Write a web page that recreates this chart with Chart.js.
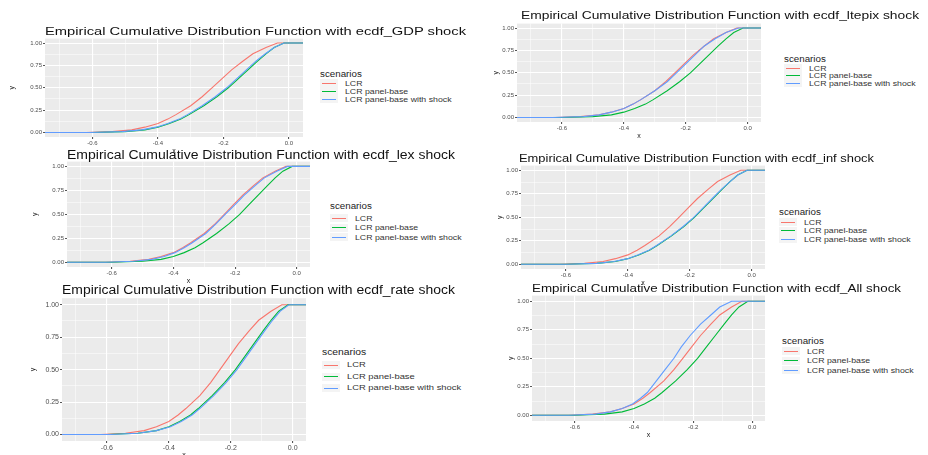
<!DOCTYPE html>
<html>
<head>
<meta charset="utf-8">
<script src="https://cdn.jsdelivr.net/npm/chart.js@4.4.1/dist/chart.umd.min.js"></script>
<style>
  body { margin:0; background:#fff; width:928px; height:455px; overflow:hidden; position:relative; font-family:"Liberation Sans", Arial, sans-serif; }
  canvas { position:absolute; }
  .title { position:absolute; white-space:nowrap; color:#111; transform-origin:0 50%; line-height:1; }
  .legend { position:absolute; color:#222; }
  .legend .lt { position:absolute; left:0; top:0; white-space:nowrap; line-height:1; transform-origin:0 50%; }
  .legend .item { position:absolute; white-space:nowrap; line-height:1; transform-origin:0 50%; color:#333; }
  .legend .key { position:absolute; left:0; width:18px; height:8px; background:#f4f4f4; }
  .legend .key i { position:absolute; left:2px; right:2px; top:3.5px; height:1px; }
</style>
</head>
<body>
<script>
const probs        = [0, 0.01, 0.03, 0.06, 0.1, 0.15, 0.2, 0.3, 0.4, 0.5, 0.6, 0.7, 0.8, 0.88, 0.95, 1];
const lcrX         = [-0.62, -0.54, -0.48, -0.44, -0.40, -0.37, -0.345, -0.30, -0.265, -0.235, -0.205, -0.175, -0.14, -0.11, -0.07, -0.035];
const baseX        = [-0.60, -0.50, -0.44, -0.40, -0.365, -0.33, -0.305, -0.26, -0.22, -0.185, -0.155, -0.125, -0.095, -0.07, -0.045, -0.015];
const gdpShockX    = [-0.61, -0.51, -0.45, -0.405, -0.37, -0.335, -0.31, -0.265, -0.225, -0.19, -0.16, -0.13, -0.10, -0.072, -0.045, -0.015];
const ltepixShockX = [-0.63, -0.53, -0.48, -0.44, -0.40, -0.37, -0.345, -0.30, -0.26, -0.23, -0.20, -0.17, -0.14, -0.105, -0.07, -0.03];
const lexShockX    = [-0.62, -0.53, -0.47, -0.43, -0.395, -0.365, -0.34, -0.295, -0.262, -0.232, -0.20, -0.17, -0.135, -0.105, -0.065, -0.03];
const infShockX    = [-0.60, -0.50, -0.445, -0.40, -0.368, -0.332, -0.307, -0.262, -0.222, -0.187, -0.157, -0.127, -0.097, -0.07, -0.045, -0.015];
const rateShockX   = [-0.59, -0.50, -0.44, -0.395, -0.36, -0.325, -0.30, -0.255, -0.215, -0.18, -0.15, -0.12, -0.09, -0.065, -0.04, -0.012];
const allShockX    = [-0.62, -0.53, -0.48, -0.44, -0.405, -0.378, -0.355, -0.325, -0.295, -0.265, -0.24, -0.21, -0.175, -0.14, -0.11, -0.07];

const scenarios = ['LCR', 'LCR panel-base', 'LCR panel-base with shock'];
const shockNames = ['ecdf_GDP', 'ecdf_ltepix', 'ecdf_lex', 'ecdf_inf', 'ecdf_rate', 'ecdf_All'];
const shockSeries = [gdpShockX, ltepixShockX, lexShockX, infShockX, rateShockX, allShockX];

const xMajor = [-0.6, -0.4, -0.2, 0];
const xMajorLabels = ['-0.6', '-0.4', '-0.2', '0.0'];
const xMinor = [-0.7, -0.5, -0.3, -0.1];
const yMajor = [0, 0.25, 0.5, 0.75, 1];
const yMajorLabels = ['0.00', '0.25', '0.50', '0.75', '1.00'];
const yMinor = [0.125, 0.375, 0.625, 0.875];
const xRange = [-0.745, 0.043];
const padLo = -1, padHi = 0.2;   // stand-ins for -Inf / +Inf padding of the ecdf

const COLORS = ['#F8766D', '#00BA38', '#619CFF'];

// layout of each panel: plot rect, title [x, y, width, size], legend [x, top, first item offset, step, text size]
const layout = [
  { plot:[45, 37, 303, 137],   yw:37, xh:18, tick:6, title:[45, 31, 421, 11],  leg:[320, 70, 13, 8, 7] },
  { plot:[517, 22, 761, 122],  yw:25, xh:18, tick:6, title:[521, 15, 398, 11], leg:[784, 55, 13, 7.7, 7] },
  { plot:[67, 160, 310, 267],  yw:36, xh:18, tick:6, title:[67, 155, 388, 12], leg:[330, 202, 16, 9.5, 7] },
  { plot:[521, 164, 765, 269], yw:25, xh:18, tick:6, title:[519, 158, 355, 11], leg:[779, 208, 14, 8.5, 7] },
  { plot:[62, 296, 306, 441],  yw:33, xh:18, tick:7, title:[62, 290, 393, 12], leg:[322, 348, 17, 11.5, 7.5] },
  { plot:[532, 294, 765, 421], yw:25, xh:18, tick:6, title:[532, 288, 369, 11], leg:[782, 337, 14, 9.5, 7] },
];

const near = (list, v) => list.some(m => Math.abs(m - v) < 1e-9);
const pts = xs => [{ x: padLo, y: 0 }, ...xs.map((x, i) => ({ x, y: probs[i] })), { x: padHi, y: 1 }];

const panelBg = {
  id: 'panelBg',
  beforeDraw(chart) {
    const { ctx, chartArea: a } = chart;
    ctx.save();
    ctx.fillStyle = '#EBEBEB';
    ctx.fillRect(a.left, a.top, a.right - a.left, a.bottom - a.top);
    ctx.restore();
  }
};

function axis(major, labels, minor, L, isX) {
  return {
    type: 'linear',
    min: isX ? xRange[0] : -0.05,
    max: isX ? xRange[1] : 1.05,
    border: { display: false },
    afterBuildTicks: s => { s.ticks = [...major, ...minor].sort((a, b) => a - b).map(v => ({ value: v })); },
    afterFit: s => { if (isX) s.height = L.xh; else s.width = L.yw; },
    grid: {
      color: '#FFFFFF',
      lineWidth: c => (c.tick && near(major, c.tick.value)) ? 1.1 : 0.5,
      tickLength: 2,
      tickColor: c => (c.tick && near(major, c.tick.value)) ? '#555' : 'rgba(0,0,0,0)'
    },
    ticks: {
      autoSkip: false, maxRotation: 0, padding: 1,
      color: '#4D4D4D', font: { size: L.tick, family: 'Liberation Sans' },
      callback: v => { const i = major.findIndex(m => Math.abs(m - v) < 1e-9); return i < 0 ? '' : labels[i]; }
    },
    title: { display: true, text: isX ? 'x' : 'y', color: '#222', font: { size: 7, family: 'Liberation Sans' }, padding: 0 }
  };
}

layout.forEach((L, k) => {
  const [l, t, r, b] = L.plot;
  const padTop = 3, padRight = 4;
  const cv = document.createElement('canvas');
  const w = (r - l) + L.yw + padRight, h = (b - t) + L.xh + padTop;
  cv.width = w; cv.height = h;
  cv.style.left = (l - L.yw) + 'px'; cv.style.top = (t - padTop) + 'px';
  cv.style.width = w + 'px'; cv.style.height = h + 'px';
  document.body.appendChild(cv);

  const series = [lcrX, baseX, shockSeries[k]];
  new Chart(cv, {
    type: 'line',
    data: {
      datasets: series.map((xs, i) => ({
        label: scenarios[i], data: pts(xs), borderColor: COLORS[i], borderWidth: 1.1,
        pointRadius: 0, tension: 0, fill: false, order: 3 - i
      }))
    },
    options: {
      responsive: false, animation: false, devicePixelRatio: 1,
      layout: { padding: { top: padTop, right: padRight, left: 0, bottom: 0 } },
      plugins: { legend: { display: false }, tooltip: { enabled: false } },
      scales: {
        x: axis(xMajor, xMajorLabels, xMinor, L, true),
        y: axis(yMajor, yMajorLabels, yMinor, L, false)
      }
    },
    plugins: [panelBg]
  });

  // title, stretched to the width seen in the picture
  const [tx, ty, tw, tfs] = L.title;
  const tEl = document.createElement('div');
  tEl.className = 'title';
  tEl.style.fontSize = tfs + 'px';
  tEl.textContent = 'Empirical Cumulative Distribution Function with ' + shockNames[k] + ' shock';
  document.body.appendChild(tEl);
  tEl.style.left = tx + 'px';
  tEl.style.top = (ty - tfs / 2) + 'px';
  tEl.style.transform = 'scaleX(' + (tw / tEl.getBoundingClientRect().width).toFixed(3) + ')';

  // legend
  const [lx, ly, first, dy, fs] = L.leg;
  const lg = document.createElement('div');
  lg.className = 'legend';
  lg.style.left = lx + 'px'; lg.style.top = ly + 'px';
  let html = '<div class="lt" style="font-size:' + (fs + 1.5) + 'px;transform:scaleX(1.15)">scenarios</div>';
  scenarios.forEach((s, i) => {
    const cy = first + i * dy;
    html += '<div class="key" style="top:' + (cy - 4) + 'px"><i style="background:' + COLORS[i] + '"></i></div>' +
            '<div class="item" style="left:25px;top:' + (cy - fs / 2) + 'px;font-size:' + fs + 'px;transform:scaleX(1.25)">' + s + '</div>';
  });
  lg.innerHTML = html;
  document.body.appendChild(lg);
});
</script>
</body>
</html>
